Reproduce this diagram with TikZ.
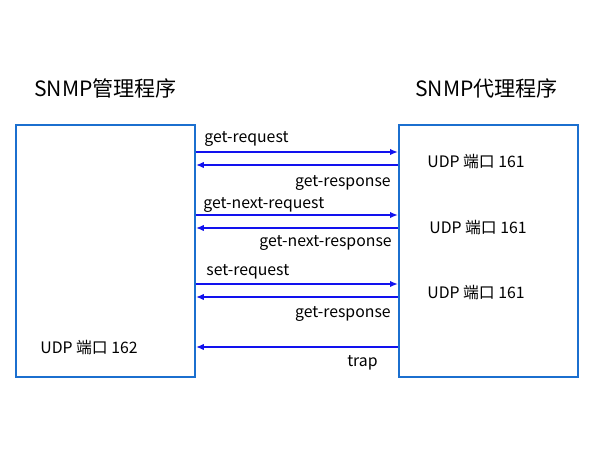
\documentclass[tikz,border=0pt]{standalone}
\usepackage{fontspec}
\setmainfont{Noto Sans CJK SC}
\usetikzlibrary{arrows.meta,positioning}
\definecolor{BoxBlue}{HTML}{1B6FCF}
\definecolor{MsgBlue}{HTML}{1212EE}
\tikzset{
  prog/.style={draw=BoxBlue,line width=1.1pt,minimum width=179*0.02cm,minimum height=252*0.02cm,inner sep=0pt},
  title/.style={font=\fontsize{12}{14}\selectfont,inner sep=0pt,anchor=west},
  msg/.style={-{Latex[length=1.6mm,width=1.3mm]},draw=MsgBlue,line width=1.2pt},
  msglabel/.style={font=\fontsize{9}{11}\selectfont,inner sep=0pt},
  port/.style={font=\fontsize{9}{11}\selectfont,inner sep=0pt,anchor=west}
}
\begin{document}
\begin{tikzpicture}[x=0.02cm,y=-0.02cm]
  \useasboundingbox (0,0) rectangle (600,450);
  % the two programs
  \node[prog,anchor=north west] (mgr) at (15,124) {};
  \node[prog,anchor=north west] (agt) at (398,124) {};
  \node[title] (mgrtitle) at (34,88) {SNMP管理程序};
  \node[title] (agttitle) at (415,88) {SNMP代理程序};
  % ports
  \node[port] (p1) at (427,162) {UDP 端口 161};
  \node[port] (p2) at (429,228) {UDP 端口 161};
  \node[port] (p3) at (427,293) {UDP 端口 161};
  \node[port] (p4) at (40,348) {UDP 端口 162};
  % requests, manager to agent
  \foreach \y/\txt/\ly/\lx in {152/get-request/142/204,215/get-next-request/208/203,284/set-request/275/206}{
    \draw[msg] (mgr.east |- 0,\y) -- (agt.west |- 0,\y);
    \node[msglabel,anchor=base west] at (\lx,\ly) {\txt};
  }
  % responses and trap, agent to manager
  \foreach \y/\txt/\ly/\rx in {165/get-response/186/391,228/get-next-response/246/392,297/get-response/317/391,347/trap/366/378}{
    \draw[msg] (agt.west |- 0,\y) -- (mgr.east |- 0,\y);
    \node[msglabel,anchor=base east] at (\rx,\ly) {\txt};
  }
\end{tikzpicture}
\end{document}
